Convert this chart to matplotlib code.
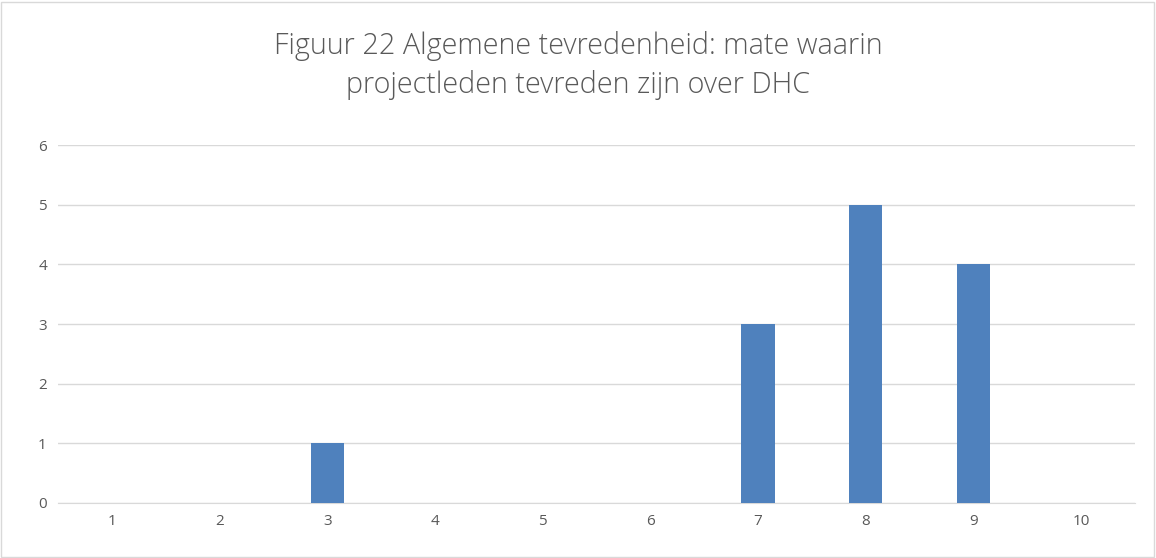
import numpy as np
import matplotlib.pyplot as plt

categories = ['1', '2', '3', '4', '5', '6', '7', '8', '9', '10']
counts = [0, 0, 1, 0, 0, 0, 3, 5, 4, 0]
title = "Figuur 22 Algemene tevredenheid: mate waarin\nprojectleden tevreden zijn over DHC"

plt.rcParams['font.family'] = ['Open Sans', 'DejaVu Sans']

fig = plt.figure(figsize=(11.56, 5.58), dpi=100)
ax = fig.add_axes([58/1156, 1 - 503/558, (1135 - 58)/1156, (503 - 145)/558])

x = np.arange(1, len(categories) + 1)
ax.bar(x, counts, width=0.31, color='#4f81bd', zorder=3)

ax.set_xlim(0.5, 10.5)
ax.set_ylim(0, 6)
ax.set_xticks(x, categories)
ax.set_yticks(range(0, 7))
ax.grid(axis='y', color='#d9d9d9', linewidth=1, zorder=0)
ax.tick_params(length=0, colors='#595959', labelsize=11, pad=8)
for s in ['top', 'right', 'left']:
    ax.spines[s].set_visible(False)
ax.spines['bottom'].set_color('#d9d9d9')

fig.text(0.5, 0.882, title, ha='center', va='center', fontsize=20.7,
         color='#595959', fontweight='light', linespacing=1.4)

# chart border
fig.add_artist(plt.Rectangle((0.001, 0.002), 0.997, 0.995, transform=fig.transFigure,
                             fill=False, edgecolor='#d9d9d9', linewidth=1))

fig.savefig('out.png', dpi=100)
